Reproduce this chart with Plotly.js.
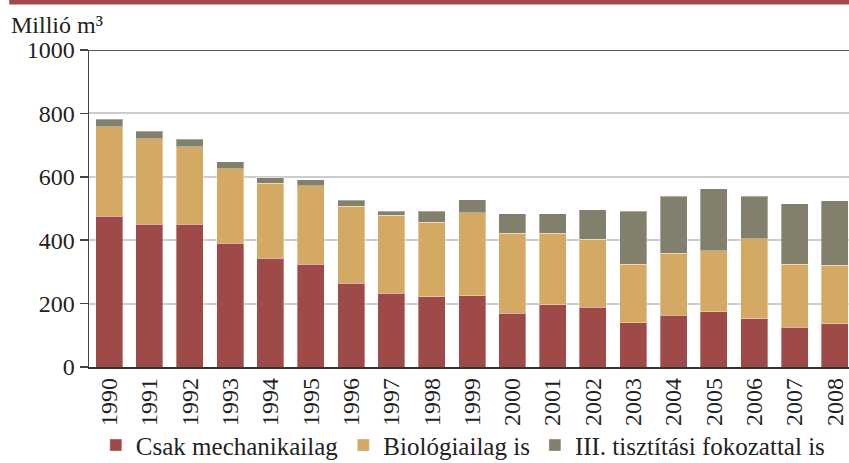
<!DOCTYPE html>
<html>
<head>
<meta charset="utf-8">
<script src="https://cdn.plot.ly/plotly-3.0.1.min.js"></script>
<style>html,body{margin:0;padding:0;background:#fff;}#chart{width:849px;height:463px;}</style>
</head>
<body>
<div id="chart"></div>
<script>
var years = ["1990","1991","1992","1993","1994","1995","1996","1997","1998","1999","2000","2001","2002","2003","2004","2005","2006","2007","2008"];
var mechanikai = [476, 451, 451, 390, 343, 324, 265, 232, 222, 224, 169, 196, 188, 140, 164, 175, 152, 125, 136];
var biologiai = [282, 269, 244, 235, 237, 248, 242, 246, 235, 263, 253, 226, 215, 184, 195, 191, 252, 199, 185];
var harmadik = [24, 24, 24, 23, 17, 18, 19, 14, 34, 40, 61, 61, 93, 167, 180, 196, 135, 191, 203];
var seriesNames = ["Csak mechanikailag", "Biológiailag is", "III. tisztítási fokozattal is"];
var FONT = "Liberation Serif";

function bar(y, name, color) {
  return {type: "bar", x: years, y: y, name: name,
    marker: {color: color, line: {color: "rgba(255,255,255,0.35)", width: 1}},
    hoverinfo: "x+y+name"};
}
var data = [
  bar(mechanikai, seriesNames[0], "#9E4A48"),
  bar(biologiai, seriesNames[1], "#D3A963"),
  bar(harmadik, seriesNames[2], "#827F6C")
];

var layout = {
  width: 849, height: 463,
  margin: {l: 89, r: 0, t: 50, b: 96, autoexpand: false},
  paper_bgcolor: "#fff", plot_bgcolor: "#fff",
  barmode: "stack", bargap: 0.33,
  font: {family: FONT, size: 24, color: "#222"},
  showlegend: true,
  legend: {orientation: "h", x: 0.009, xanchor: "left", y: -0.247, yanchor: "middle",
    bgcolor: "rgba(0,0,0,0)",
    font: {family: FONT, size: 25, color: "#222"}, itemwidth: 30, traceorder: "normal",
    tracegroupgap: 0},
  xaxis: {type: "category", range: [-0.5, 18.35], tickangle: -90, showgrid: false,
    showline: true, linecolor: "#333", linewidth: 1.5, ticks: "", automargin: false,
    tickfont: {family: FONT, size: 24, color: "#222"}, fixedrange: true},
  yaxis: {range: [0, 1000], tickvals: [0, 200, 400, 600, 800, 1000], automargin: false,
    showgrid: true, gridcolor: "#cdcdcd", gridwidth: 2, zeroline: false,
    showline: true, linecolor: "#444", linewidth: 1.5,
    ticks: "outside", ticklen: 8, tickcolor: "#444", tickwidth: 1.5,
    tickfont: {family: FONT, size: 24, color: "#222"}, fixedrange: true},
  shapes: [
    {type: "rect", xref: "paper", yref: "paper", x0: -0.105, x1: 1.01, y0: 1.1435, y1: 1.2, fillcolor: "#A04A49", line: {width: 0}, layer: "above"},
    {type: "line", xref: "paper", yref: "y", x0: 0, x1: 1, y0: 1000, y1: 1000, line: {color: "#222", width: 1.5}}
  ],
  annotations: [
    {xref: "paper", yref: "paper", x: -0.105, y: 1.079, xanchor: "left", yanchor: "middle",
     text: "Millió m³", showarrow: false, font: {family: FONT, size: 24, color: "#222"}}
  ]
};
Plotly.newPlot("chart", data, layout, {displayModeBar: false, staticPlot: true});
</script>
</body>
</html>
